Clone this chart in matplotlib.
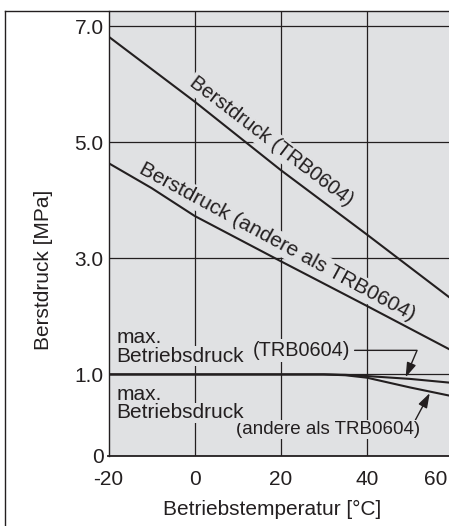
import numpy as np
import matplotlib
matplotlib.use('Agg')
import matplotlib.pyplot as plt
from matplotlib.lines import Line2D
import matplotlib.transforms as mtransforms

plt.rcParams['font.family'] = ['Liberation Sans', 'DejaVu Sans']

# ---- data ----
burst_trb_x = [-20, 0, 20, 40, 60]
burst_trb = [6.82, 5.70, 4.52, 3.41, 2.28]
burst_other_x = [-20, -10, 0, 20, 40, 60]
burst_other = [4.64, 4.21, 3.73, 2.95, 2.18, 1.40]
maxp_x = [-20, 30, 35, 40, 50, 60]
maxp_trb = [1.0, 1.0, 0.995, 0.98, 0.945, 0.895]
maxp_other = [1.0, 1.0, 0.99, 0.96, 0.84, 0.73]
xticks = [-20, 0, 20, 40, 60]
xticklabels = ['-20', '0', '20', '40', '60']
yticks = [0, 1, 3, 5, 7]
yticklabels = ['0', '1.0', '3.0', '5.0', '7.0']

INK = '#231f20'
BG = '#e0e1e3'
FS = 15

# piecewise axis: 0..1 stretched
K = 1.40
def fwd(y):
    y = np.asarray(y, float)
    return np.where(y <= 1, y * K, K + (y - 1))
def inv(t):
    t = np.asarray(t, float)
    return np.where(t <= K, t / K, t - K + 1)

W, H = 449, 526
fig = plt.figure(figsize=(W / 100, H / 100), dpi=100)
ax = fig.add_axes([108.5 / W, (H - 455.7) / H, (453 - 108.5) / W, (455.7 - 11) / H])
ax.set_yscale('function', functions=(fwd, inv))
ax.set_xlim(-20, 60)
ax.set_ylim(0, 7.26)
ax.set_facecolor(BG)

ax.set_xticks(xticks)
ax.set_xticklabels(xticklabels)
ax.set_yticks(yticks)
ax.set_yticklabels(yticklabels)
ax.tick_params(axis='both', length=0, labelsize=FS, colors=INK)
ax.tick_params(axis='x', pad=10)
ax.tick_params(axis='y', pad=3.5)
ax.grid(True, color=INK, lw=0.9)
ax.set_axisbelow(True)
for s in ['top', 'right']:
    ax.spines[s].set_visible(False)
ax.spines['left'].set_color(INK)
ax.spines['left'].set_linewidth(1.0)
ax.spines['bottom'].set_color(INK)
ax.spines['bottom'].set_linewidth(1.3)

# shift the cropped "60" label left
lab = ax.get_xticklabels()[-1]
lab.set_transform(lab.get_transform() +
                  mtransforms.ScaledTranslation(-17 / 100, 0, fig.dpi_scale_trans))

# curves
ckw = dict(color=INK, lw=1.5, zorder=4, solid_capstyle='butt')
ax.plot(burst_trb_x, burst_trb, **ckw)
ax.plot(burst_other_x, burst_other, **ckw)
ax.plot(maxp_x, maxp_trb, **ckw)
ax.plot(maxp_x, maxp_other, **ckw)

def tkw(fs=FS, z=3, pad=1.5, box=True):
    d = dict(fontsize=fs, color=INK, zorder=z)
    if box:
        d['bbox'] = dict(facecolor=BG, edgecolor='none', pad=pad)
    return d

ax.text(17.8, 5.01, 'Berstdruck (TRB0604)', rotation=-37.4,
        rotation_mode='anchor', ha='center', va='center', **tkw(14.5))
ax.text(19.2, 3.28, 'Berstdruck (andere als TRB0604)', rotation=-28.5,
        rotation_mode='anchor', ha='center', va='center', **tkw())

ax.text(-18.2, 1.543, 'max.', ha='left', va='baseline', **tkw(box=False))
ax.text(-18.2, 1.22, 'Betriebsdruck', ha='left', va='baseline', **tkw(pad=0.5))
ax.text(-18.2, 0.686, 'max.', ha='left', va='baseline', **tkw(box=False))
ax.text(-18.2, 0.46, 'Betriebsdruck', ha='left', va='baseline', **tkw(z=3.2, pad=0.5))

akw = dict(arrowstyle='-|>,head_length=0.55,head_width=0.18', color=INK, lw=1.0,
           mutation_scale=16, shrinkB=0)
ax.annotate('(TRB0604)', xy=(49.0, 0.965), xytext=(13.4, 1.32),
            textcoords='data', ha='left', va='baseline',
            arrowprops=dict(connectionstyle='angle,angleA=0,angleB=67,rad=0',
                            relpos=(1, 0.5), shrinkA=2, **akw),
            **tkw(14.3))
ax.annotate('(andere als TRB0604)', xy=(54.6, 0.77), xytext=(9.7, 0.27),
            textcoords='data', ha='left', va='baseline',
            arrowprops=dict(relpos=(0.97, 1.0), shrinkA=0, **akw),
            **tkw(13.5, z=3.1, pad=0.5))

# axis titles
fig.text(44 / W, 1 - 270 / H, 'Berstdruck [MPa]', rotation=90,
         ha='center', va='center', fontsize=FS, color=INK)
fig.text(272 / W, 1 - 509 / H, 'Betriebstemperatur [°C]',
         ha='center', va='center', fontsize=FS, color=INK)

# outer frame (left and top edges visible)
fig.add_artist(Line2D([5 / W, 5 / W], [0, 1 - 11 / H], transform=fig.transFigure,
                      color=INK, lw=1.0))
fig.add_artist(Line2D([5 / W, 1], [1 - 11 / H, 1 - 11 / H], transform=fig.transFigure,
                      color=INK, lw=1.0))

fig.savefig('out.png', dpi=100)
